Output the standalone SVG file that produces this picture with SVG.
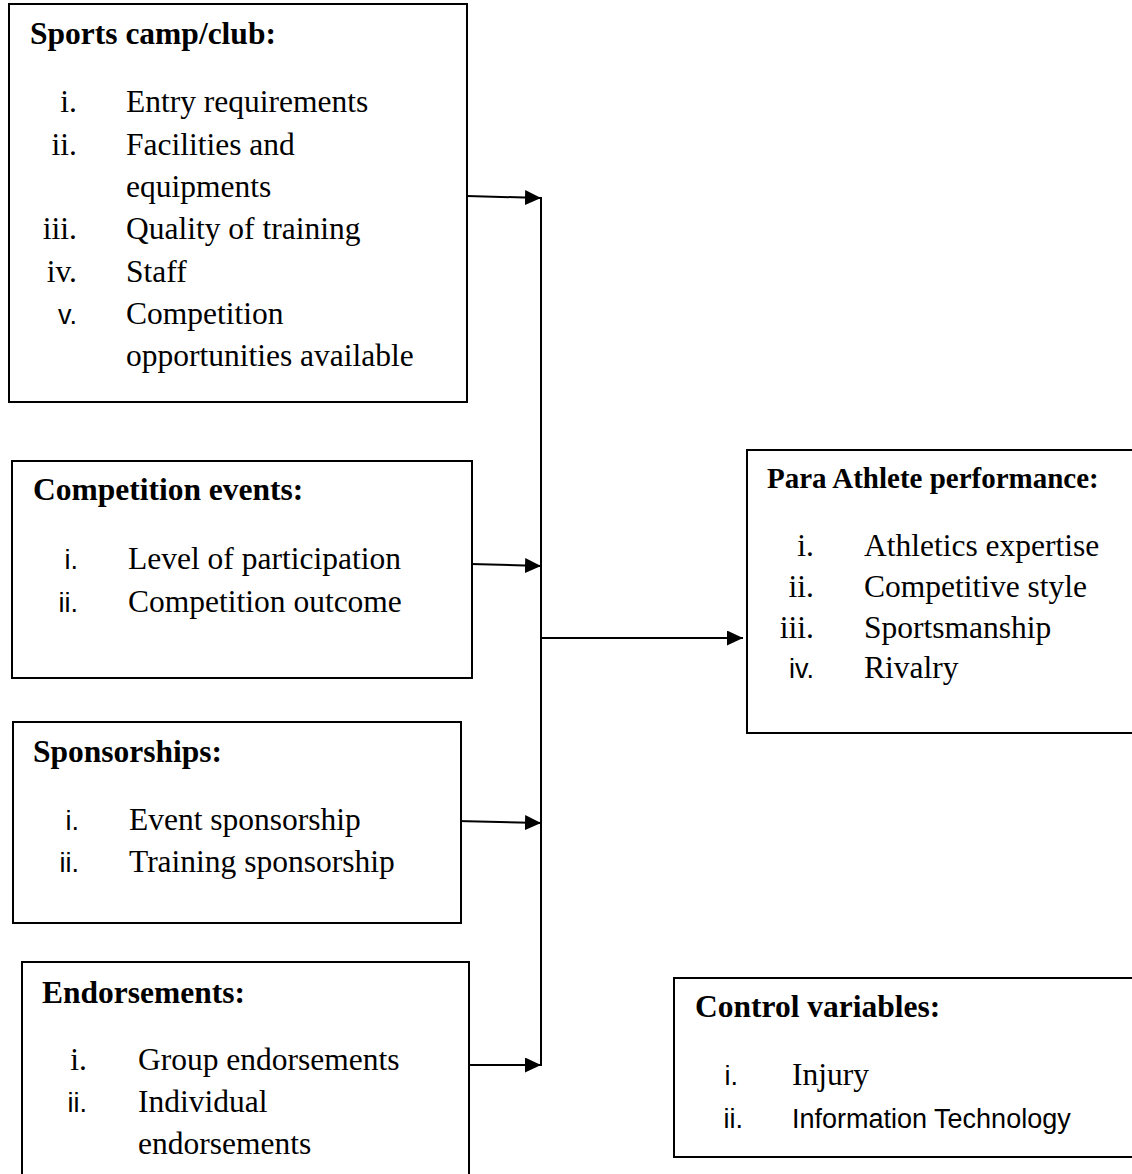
<svg xmlns="http://www.w3.org/2000/svg" width="1132" height="1174" viewBox="0 0 1132 1174">
<style>
.box{fill:#fff;stroke:#000;stroke-width:2}
.t{font-family:"Liberation Serif","Times New Roman",serif;font-size:31.5px;fill:#000}
.h{font-family:"Liberation Serif","Times New Roman",serif;font-size:31.5px;font-weight:bold;fill:#000}
.s{font-family:"Liberation Sans",Arial,sans-serif;font-size:27px;fill:#000}
.n{text-anchor:end}
.c{fill:none;stroke:#000;stroke-width:2}
</style>
<defs>
<marker id="ah" markerWidth="16" markerHeight="15" refX="16" refY="7.5" orient="auto" markerUnits="userSpaceOnUse">
<path d="M0,0 L16,7.5 L0,15 Z" fill="#000"/>
</marker>
</defs>
<rect width="1132" height="1174" fill="#fff"/>
<g id="connectors">
<line class="c" x1="541" y1="197" x2="541" y2="1066"/>
<line class="c" x1="467" y1="196" x2="541" y2="198" marker-end="url(#ah)"/>
<line class="c" x1="471" y1="564" x2="541" y2="566" marker-end="url(#ah)"/>
<line class="c" x1="457" y1="821" x2="541" y2="823" marker-end="url(#ah)"/>
<line class="c" x1="469" y1="1065" x2="541" y2="1065" marker-end="url(#ah)"/>
<line class="c" x1="541" y1="638" x2="743" y2="638" marker-end="url(#ah)"/>
</g>
<g id="sports-camp">
<rect class="box" x="9" y="4" width="458" height="398"/>
<text class="h" x="30" y="44">Sports camp/club:</text>
<text class="t n" x="77" y="112">i.</text><text class="t" x="126" y="112">Entry requirements</text>
<text class="t n" x="77" y="155">ii.</text><text class="t" x="126" y="155">Facilities and</text>
<text class="t" x="126" y="197">equipments</text>
<text class="t n" x="77" y="239">iii.</text><text class="t" x="126" y="239">Quality of training</text>
<text class="t n" x="77" y="282">iv.</text><text class="t" x="126" y="282">Staff</text>
<text class="s n" x="77" y="324">v.</text><text class="t" x="126" y="324">Competition</text>
<text class="t" x="126" y="366">opportunities available</text>
</g>
<g id="competition-events">
<rect class="box" x="12" y="461" width="460" height="217"/>
<text class="h" x="33" y="500">Competition events:</text>
<text class="s n" x="78" y="569">i.</text><text class="t" x="128" y="569">Level of participation</text>
<text class="s n" x="78" y="612">ii.</text><text class="t" x="128" y="612">Competition outcome</text>
</g>
<g id="sponsorships">
<rect class="box" x="13" y="722" width="448" height="201"/>
<text class="h" x="33" y="762">Sponsorships:</text>
<text class="s n" x="79" y="830">i.</text><text class="t" x="129" y="830">Event sponsorship</text>
<text class="s n" x="79" y="872">ii.</text><text class="t" x="129" y="872">Training sponsorship</text>
</g>
<g id="endorsements">
<rect class="box" x="22" y="962" width="447" height="230"/>
<text class="h" x="42" y="1003">Endorsements:</text>
<text class="t n" x="87" y="1070">i.</text><text class="t" x="138" y="1070">Group endorsements</text>
<text class="s n" x="87" y="1112">ii.</text><text class="t" x="138" y="1112">Individual</text>
<text class="t" x="138" y="1154">endorsements</text>
</g>
<g id="para-athlete-performance">
<rect class="box" x="747" y="450" width="400" height="283"/>
<text class="h" x="767" y="488" style="font-size:29px">Para Athlete performance:</text>
<text class="t n" x="814" y="556">i.</text><text class="t" x="864" y="556">Athletics expertise</text>
<text class="t n" x="814" y="597">ii.</text><text class="t" x="864" y="597">Competitive style</text>
<text class="t n" x="814" y="638">iii.</text><text class="t" x="864" y="638">Sportsmanship</text>
<text class="s n" x="814" y="678">iv.</text><text class="t" x="864" y="678">Rivalry</text>
</g>
<g id="control-variables">
<rect class="box" x="674" y="978" width="470" height="179"/>
<text class="h" x="695" y="1017">Control variables:</text>
<text class="s n" x="738" y="1085">i.</text><text class="t" x="792" y="1085">Injury</text>
<text class="s n" x="743" y="1128">ii.</text><text class="s" x="792" y="1128">Information Technology</text>
</g>
</svg>
